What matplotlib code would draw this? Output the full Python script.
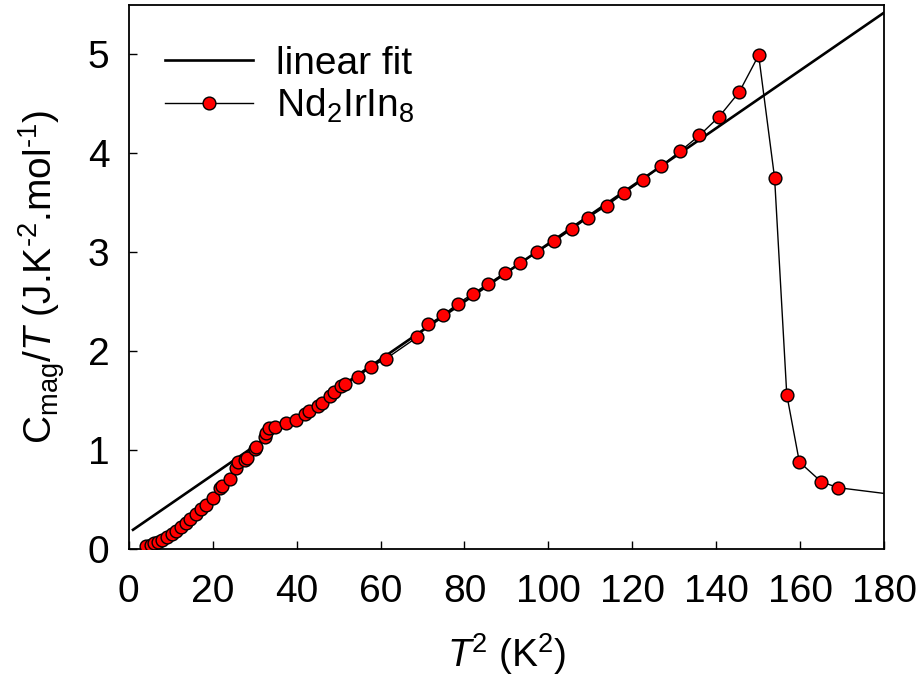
import matplotlib
matplotlib.use("Agg")
import matplotlib.pyplot as plt
import numpy as np

plt.rcParams['font.family'] = ['Liberation Sans', 'DejaVu Sans']
plt.rcParams['mathtext.fontset'] = 'custom'
plt.rcParams['mathtext.rm'] = 'Liberation Sans'
plt.rcParams['mathtext.it'] = 'Liberation Sans:italic'
plt.rcParams['mathtext.bf'] = 'Liberation Sans:bold'

# Magnetic specific heat C_mag/T versus T^2 for Nd2IrIn8
t2 = [4.2, 5.2, 6.0, 7.0, 7.9, 9.0, 10.2, 11.3, 12.5, 13.6, 14.7, 16.1, 17.3, 18.3,
      20.1, 21.8, 22.3, 24.0, 25.6, 26.0, 27.6, 28.2, 30.0, 30.4, 32.4, 32.8, 33.5,
      34.8, 37.5, 39.9, 42.0, 43.0, 45.0, 46.0, 48.0, 49.0, 50.5, 51.5, 54.7, 57.6,
      61.2, 68.7, 71.4, 74.8, 78.4, 82.0, 85.6, 89.6, 93.3, 97.2, 101.4, 105.5,
      109.5, 113.9, 118.1, 122.5, 126.8, 131.4, 136.0, 140.7, 145.5, 150.1, 153.9,
      156.8, 159.8, 165.0, 169.0, 186.0]
cmag_t = [0.03, 0.04, 0.06, 0.07, 0.09, 0.12, 0.15, 0.18, 0.22, 0.26, 0.30, 0.35, 0.40,
          0.44, 0.52, 0.62, 0.64, 0.71, 0.82, 0.88, 0.90, 0.92, 1.01, 1.03, 1.13, 1.17,
          1.22, 1.23, 1.27, 1.30, 1.36, 1.39, 1.45, 1.48, 1.55, 1.59, 1.65, 1.67, 1.74,
          1.84, 1.92, 2.14, 2.27, 2.36, 2.48, 2.58, 2.68, 2.79, 2.89, 3.00, 3.11, 3.23,
          3.35, 3.47, 3.60, 3.73, 3.87, 4.02, 4.18, 4.37, 4.62, 4.99, 3.75, 1.56, 0.88,
          0.68, 0.62, 0.53]

# Linear fit parameters (gamma + beta*T^2)
fit_intercept = 0.165
fit_slope = 0.0292
fit_range = [1.0, 180.0]

FS = 28

fig = plt.figure(figsize=(9.2, 6.82), dpi=100)
ax = fig.add_axes([0.140, 0.195, 0.821, 0.798])

xf = np.array(fit_range)
ax.plot(xf, fit_intercept + fit_slope * xf, color='black', lw=1.9,
        label='linear fit', zorder=2)
ax.plot(t2, cmag_t, color='black', lw=1.0, marker='o', markersize=9.2,
        markerfacecolor='#ff0000', markeredgecolor='black', markeredgewidth=1.0,
        label=r'Nd$_2$IrIn$_8$', zorder=3)

ax.set_xlim(0, 180)
ax.set_ylim(0, 5.5)
ax.set_xticks(np.arange(0, 181, 20))
ax.set_yticks(np.arange(0, 6, 1))
ax.tick_params(direction='in', length=6, width=1.0, labelsize=FS)
ax.tick_params(axis='x', pad=18)
ax.tick_params(axis='y', pad=14)
for s in ax.spines.values():
    s.set_linewidth(1.3)

ax.set_xlabel(r'$\it{T}$$^2$ (K$^2$)', fontsize=FS, labelpad=15)
ax.set_ylabel(r'C$_{\rm mag}$/$\it{T}$ (J.K$^{\text{-}2}$.mol$^{\text{-}1}$)',
              fontsize=FS, labelpad=15)

ax.legend(loc='upper left', frameon=False, fontsize=FS, handlelength=2.25,
          handletextpad=0.6, borderaxespad=0.0, borderpad=0.0, labelspacing=0.12,
          bbox_to_anchor=(0.048, 0.925))

fig.savefig('out.png', dpi=100)
